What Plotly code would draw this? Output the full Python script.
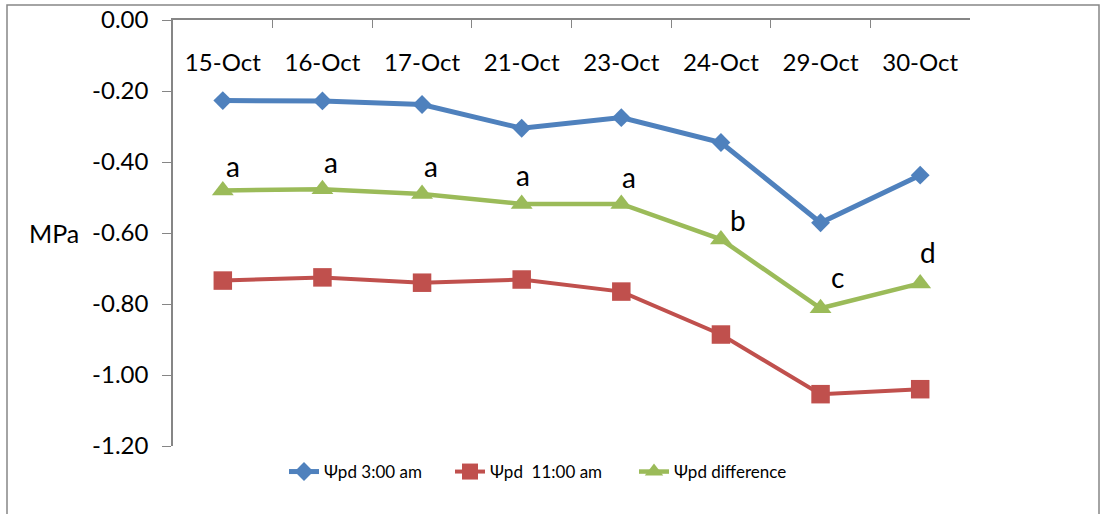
import plotly.graph_objects as go

dates = ["15-Oct", "16-Oct", "17-Oct", "21-Oct", "23-Oct", "24-Oct", "29-Oct", "30-Oct"]
psi_3am = [-0.227, -0.228, -0.238, -0.305, -0.275, -0.345, -0.571, -0.437]
psi_11am = [-0.734, -0.725, -0.740, -0.731, -0.765, -0.886, -1.054, -1.040]
psi_diff = [-0.480, -0.477, -0.490, -0.518, -0.518, -0.618, -0.812, -0.742]
diff_letters = ["a", "a", "a", "a", "a", "b", "c", "d"]
letter_dx = [10, 9, 9, 1, 8, 17, 17, 8]
letter_dy = [24, 27, 28, 29, 27, 19, 31, 31]
y_ticks = [0.0, -0.2, -0.4, -0.6, -0.8, -1.0, -1.2]

BLUE = "#4F81BD"
RED = "#C0504D"
GREEN = "#9BBB59"
AXIS = "#868686"
FONT = "Lato"

W, H = 1100, 514
L, R, T, B = 173, 130, 20, 68
pw, ph = W - L - R, H - T - B


def px_x(p):
    return (p - L) / pw


def px_y(p):
    return (H - B - p) / ph


# dates sit at integer positions; the top axis carries boundary ticks,
# a second overlaid axis carries the date labels just below that line
pos = list(range(len(dates)))
bounds = [i - 0.5 for i in range(len(dates) + 1)]

fig = go.Figure()
fig.add_trace(go.Scatter(
    x=pos, y=psi_3am, mode="lines+markers", name="Ψpd 3:00 am",
    line=dict(color=BLUE, width=5),
    marker=dict(symbol="diamond", size=14.5, color=BLUE),
    legend="legend",
))
fig.add_trace(go.Scatter(
    x=pos, y=psi_11am, mode="lines+markers", name="Ψpd\u00a0\u00a011:00 am",
    line=dict(color=RED, width=4),
    marker=dict(symbol="square", size=18.5, color=RED),
    legend="legend2",
))
fig.add_trace(go.Scatter(
    x=pos, y=psi_diff, mode="lines+markers", name="Ψpd difference",
    line=dict(color=GREEN, width=4.5),
    marker=dict(symbol="triangle-up", size=19, color=GREEN),
    legend="legend3",
))
# invisible carrier so the date-label axis is drawn
fig.add_trace(go.Scatter(
    x=pos, y=psi_3am, xaxis="x2", mode="markers",
    marker=dict(opacity=0), showlegend=False, hoverinfo="skip",
))

for p, v, t, dx, dy in zip(pos, psi_diff, diff_letters, letter_dx, letter_dy):
    fig.add_annotation(x=p, y=v, text=t, showarrow=False, xshift=dx, yshift=dy,
                       font=dict(family=FONT, size=28, color="black"))

fig.add_annotation(x=px_x(27), y=-0.60, xref="paper", yref="y", text="MPa",
                   showarrow=False, xanchor="left",
                   font=dict(family=FONT, size=25, color="black"))

fig.add_shape(type="rect", xref="paper", yref="paper",
              x0=px_x(7), x1=px_x(1099), y0=px_y(530), y1=px_y(5),
              line=dict(color=AXIS, width=1.5), layer="below")

leg_common = dict(orientation="h", yanchor="middle", xanchor="left",
                  font=dict(family=FONT, size=17, color="black"),
                  bgcolor="rgba(0,0,0,0)", borderwidth=0)

fig.update_layout(
    width=W, height=H,
    margin=dict(l=L, r=R, t=T, b=B, autoexpand=False),
    paper_bgcolor="white", plot_bgcolor="white",
    font=dict(family=FONT, size=24, color="black"),
    showlegend=True,
    legend=dict(x=px_x(284), y=px_y(472), **leg_common),
    legend2=dict(x=px_x(450), y=px_y(472), **leg_common),
    legend3=dict(x=px_x(634), y=px_y(472), **leg_common),
    xaxis=dict(
        range=[-0.5, len(dates) - 0.5], side="top",
        tickmode="array", tickvals=bounds,
        showline=True, linecolor=AXIS, linewidth=1.5,
        ticks="inside", ticklen=8, tickcolor=AXIS,
        showticklabels=False, showgrid=False, zeroline=False,
    ),
    xaxis2=dict(
        range=[-0.5, len(dates) - 0.5], overlaying="x", anchor="free",
        position=px_y(76), side="top",
        tickmode="array", tickvals=pos, ticktext=dates,
        showline=False, ticks="", showgrid=False, zeroline=False,
        tickfont=dict(family=FONT, size=24, color="black"),
    ),
    yaxis=dict(
        range=[-1.2, 0], tickmode="array", tickvals=y_ticks,
        ticktext=[f"{v:.2f}" for v in y_ticks],
        showline=True, linecolor=AXIS, linewidth=1.5,
        ticks="outside", ticklen=9, tickcolor=AXIS,
        ticklabelstandoff=9,
        showgrid=False, zeroline=False,
        tickfont=dict(family=FONT, size=24, color="black"),
    ),
)

fig.write_html("out.html")
